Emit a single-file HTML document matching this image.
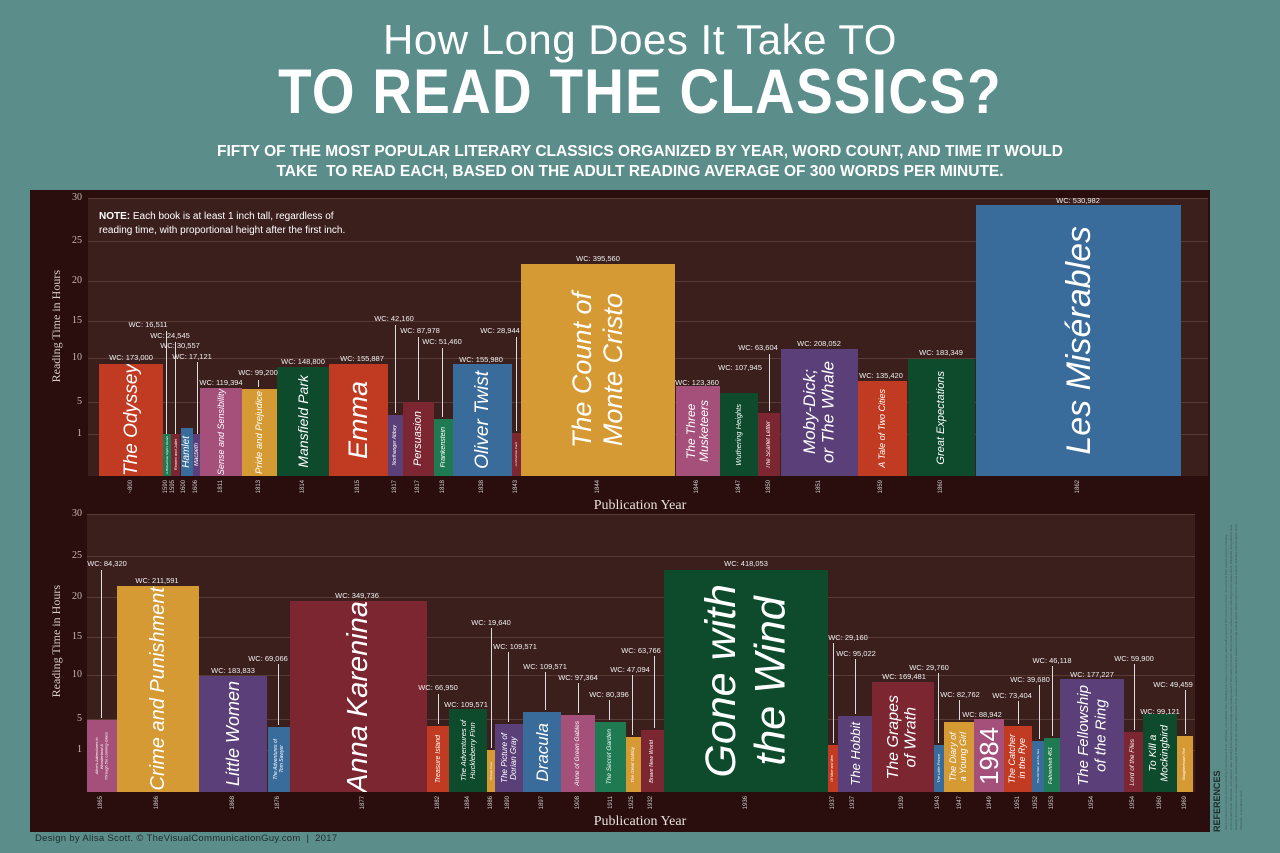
<!DOCTYPE html>
<html><head><meta charset="utf-8"><style>
*{margin:0;padding:0;box-sizing:border-box}
body{width:1280px;height:853px;background:#5b8d8b;position:relative;overflow:hidden;font-family:"Liberation Sans",sans-serif}
.a{position:absolute}
.panel{left:30px;top:190px;width:1180px;height:642px;background:#2a0e0d}
.plot{background:#3b1f1d}
.g{position:absolute;height:1px;background:#5a3a34}
.yl{position:absolute;font-family:"Liberation Serif",serif;font-size:10px;color:#c9b9b3;width:20px;text-align:right}
.b{position:absolute;display:flex;align-items:center;justify-content:center;color:#fff;font-style:italic;overflow:hidden}
.v{writing-mode:vertical-rl;transform:rotate(180deg);text-align:center;line-height:1;white-space:nowrap}
.w{position:absolute;font-size:7.5px;color:#eee;white-space:nowrap;transform:translateX(-50%)}
.l{position:absolute;width:1px;background:#ddd}
.yr{position:absolute;font-size:6px;color:#ccc;writing-mode:vertical-rl;transform:translateX(-50%) rotate(180deg)}
.px{position:absolute;font-family:"Liberation Serif",serif;font-size:14px;color:#e8e0dc;width:200px;text-align:center;margin-left:-100px}
.yt{position:absolute;font-family:"Liberation Serif",serif;font-size:12px;color:#d8ccc8;writing-mode:vertical-rl;transform:rotate(180deg)}
.R{background:#c13b22}.G{background:#d69a35}.N{background:#0d4b2c}.P{background:#5b3f78}.K{background:#a5507b}.M{background:#7b2630}.B{background:#3a6c9b}.T{background:#1f7a52}
</style></head><body>
<div class="a" style="left:0;top:16px;width:1280px;text-align:center;color:#fff;font-size:42px;font-weight:300;letter-spacing:0.5px">How Long Does It Take TO</div>
<div class="a" style="left:0;top:56px;width:1280px;text-align:center;color:#fff;font-size:63px;font-weight:bold;transform:scaleX(0.87);letter-spacing:1.5px">TO READ THE CLASSICS?</div>
<div class="a" style="left:0;top:142px;width:1280px;text-align:center;color:#fff;font-size:15.5px;font-weight:bold;line-height:20px">FIFTY OF THE MOST POPULAR LITERARY CLASSICS ORGANIZED BY YEAR, WORD COUNT, AND TIME IT WOULD<br>TAKE &nbsp;TO READ EACH, BASED ON THE ADULT READING AVERAGE OF 300 WORDS PER MINUTE.</div>

<div class="a panel"></div>
<div class="a plot" style="left:88px;top:198px;width:1120px;height:278px"></div>
<div class="a plot" style="left:87px;top:514px;width:1108px;height:278px"></div>

<div class="g" style="left:88px;width:1120px;top:198px"></div><div class="g" style="left:88px;width:1120px;top:241px"></div><div class="g" style="left:88px;width:1120px;top:281px"></div><div class="g" style="left:88px;width:1120px;top:321px"></div><div class="g" style="left:88px;width:1120px;top:358px"></div><div class="g" style="left:88px;width:1120px;top:402px"></div><div class="g" style="left:88px;width:1120px;top:434px"></div>
<div class="yl" style="left:62px;top:192px">30</div><div class="yl" style="left:62px;top:235px">25</div><div class="yl" style="left:62px;top:275px">20</div><div class="yl" style="left:62px;top:315px">15</div><div class="yl" style="left:62px;top:352px">10</div><div class="yl" style="left:62px;top:396px">5</div><div class="yl" style="left:62px;top:428px">1</div>
<div class="g" style="left:87px;width:1108px;top:514px"></div><div class="g" style="left:87px;width:1108px;top:556px"></div><div class="g" style="left:87px;width:1108px;top:597px"></div><div class="g" style="left:87px;width:1108px;top:637px"></div><div class="g" style="left:87px;width:1108px;top:675px"></div><div class="g" style="left:87px;width:1108px;top:719px"></div><div class="g" style="left:87px;width:1108px;top:750px"></div>
<div class="yl" style="left:62px;top:508px">30</div><div class="yl" style="left:62px;top:550px">25</div><div class="yl" style="left:62px;top:591px">20</div><div class="yl" style="left:62px;top:631px">15</div><div class="yl" style="left:62px;top:669px">10</div><div class="yl" style="left:62px;top:713px">5</div><div class="yl" style="left:62px;top:744px">1</div>

<div class="yt" style="left:49px;top:270px">Reading Time in Hours</div>
<div class="yt" style="left:49px;top:585px">Reading Time in Hours</div>
<div class="px" style="left:640px;top:498px">Publication Year</div>
<div class="px" style="left:640px;top:814px">Publication Year</div>

<div class="a" style="left:99px;top:210px;color:#fff;font-size:10px;line-height:14px"><b>NOTE:</b> Each book is at least 1 inch tall, regardless of<br>reading time, with proportional height after the first inch.</div>

<div class="b R" style="left:99px;top:364px;width:64px;height:112px"><span class="v" style="font-size:19px">The Odyssey</span></div>
<div class="b T" style="left:163px;top:434px;width:8px;height:42px"><span class="v" style="font-size:3px">A Midsummer Night's Dream</span></div>
<div class="b M" style="left:171px;top:434px;width:9px;height:42px"><span class="v" style="font-size:4px">Romeo and Juliet</span></div>
<div class="b B" style="left:181px;top:428px;width:12px;height:48px"><span class="v" style="font-size:10px">Hamlet</span></div>
<div class="b P" style="left:193px;top:434px;width:7px;height:42px"><span class="v" style="font-size:6px">Macbeth</span></div>
<div class="b K" style="left:200px;top:388px;width:42px;height:88px"><span class="v" style="font-size:9px">Sense and Sensibility</span></div>
<div class="b G" style="left:242px;top:389px;width:35px;height:87px"><span class="v" style="font-size:9.5px">Pride and Prejudice</span></div>
<div class="b N" style="left:277px;top:367px;width:52px;height:109px"><span class="v" style="font-size:14px">Mansfield Park</span></div>
<div class="b R" style="left:329px;top:364px;width:59px;height:112px"><span class="v" style="font-size:27px">Emma</span></div>
<div class="b P" style="left:388px;top:415px;width:15px;height:61px"><span class="v" style="font-size:5px">Northanger Abbey</span></div>
<div class="b M" style="left:403px;top:402px;width:31px;height:74px"><span class="v" style="font-size:11px">Persuasion</span></div>
<div class="b T" style="left:434px;top:419px;width:19px;height:57px"><span class="v" style="font-size:7px">Frankenstein</span></div>
<div class="b B" style="left:453px;top:364px;width:59px;height:112px"><span class="v" style="font-size:19px">Oliver Twist</span></div>
<div class="b M" style="left:512px;top:433px;width:9px;height:43px"><span class="v" style="font-size:3px">A Christmas Carol</span></div>
<div class="b G" style="left:521px;top:264px;width:154px;height:212px"><span class="v" style="font-size:27px;line-height:1.15">The Count of<br>Monte Cristo</span></div>
<div class="b K" style="left:676px;top:386px;width:44px;height:90px"><span class="v" style="font-size:12px;line-height:1.1">The Three<br>Musketeers</span></div>
<div class="b N" style="left:720px;top:393px;width:38px;height:83px"><span class="v" style="font-size:7.5px">Wuthering Heights</span></div>
<div class="b M" style="left:758px;top:413px;width:22px;height:63px"><span class="v" style="font-size:6px">The Scarlet Letter</span></div>
<div class="b P" style="left:781px;top:349px;width:77px;height:127px"><span class="v" style="font-size:17px;line-height:1.1">Moby-Dick;<br>or The Whale</span></div>
<div class="b R" style="left:858px;top:381px;width:49px;height:95px"><span class="v" style="font-size:9px">A Tale of Two Cities</span></div>
<div class="b N" style="left:908px;top:359px;width:67px;height:117px"><span class="v" style="font-size:11px">Great Expectations</span></div>
<div class="b B" style="left:976px;top:205px;width:205px;height:271px"><span class="v" style="font-size:34px">Les Misérables</span></div>

<div class="b K" style="left:87px;top:720px;width:30px;height:72px"><span class="v" style="font-size:4px;line-height:1.2">Alice's Adventures in<br>Wonderland &amp;<br>Through the Looking-Glass</span></div>
<div class="b G" style="left:117px;top:586px;width:82px;height:206px"><span class="v" style="font-size:20px">Crime and Punishment</span></div>
<div class="b P" style="left:199px;top:676px;width:68px;height:116px"><span class="v" style="font-size:18px">Little Women</span></div>
<div class="b B" style="left:268px;top:727px;width:22px;height:65px"><span class="v" style="font-size:5px;line-height:1.2">The Adventures of<br>Tom Sawyer</span></div>
<div class="b M" style="left:290px;top:601px;width:137px;height:191px"><span class="v" style="font-size:29px">Anna Karenina</span></div>
<div class="b R" style="left:427px;top:726px;width:22px;height:66px"><span class="v" style="font-size:7px">Treasure Island</span></div>
<div class="b N" style="left:449px;top:709px;width:38px;height:83px"><span class="v" style="font-size:7.5px;line-height:1.2">The Adventures of<br>Huckleberry Finn</span></div>
<div class="b G" style="left:487px;top:750px;width:8px;height:42px"><span class="v" style="font-size:3px">Strange Case</span></div>
<div class="b P" style="left:495px;top:724px;width:28px;height:68px"><span class="v" style="font-size:8px;line-height:1.15">The Picture of<br>Dorian Gray</span></div>
<div class="b B" style="left:523px;top:712px;width:38px;height:80px"><span class="v" style="font-size:17px">Dracula</span></div>
<div class="b K" style="left:561px;top:715px;width:34px;height:77px"><span class="v" style="font-size:6.5px">Anne of Green Gables</span></div>
<div class="b T" style="left:595px;top:722px;width:31px;height:70px"><span class="v" style="font-size:6.5px">The Secret Garden</span></div>
<div class="b G" style="left:626px;top:737px;width:15px;height:55px"><span class="v" style="font-size:4.5px">The Great Gatsby</span></div>
<div class="b M" style="left:641px;top:730px;width:23px;height:62px"><span class="v" style="font-size:5.5px">Brave New World</span></div>
<div class="b N" style="left:664px;top:570px;width:164px;height:222px"><span class="v" style="font-size:43px;line-height:1.15">Gone with<br>the Wind</span></div>
<div class="b R" style="left:828px;top:745px;width:10px;height:47px"><span class="v" style="font-size:3.5px">Of Mice and Men</span></div>
<div class="b P" style="left:838px;top:716px;width:34px;height:76px"><span class="v" style="font-size:13px">The Hobbit</span></div>
<div class="b M" style="left:872px;top:682px;width:62px;height:110px"><span class="v" style="font-size:16px;line-height:1.1">The Grapes<br>of Wrath</span></div>
<div class="b B" style="left:934px;top:745px;width:10px;height:47px"><span class="v" style="font-size:4px">The Little Prince</span></div>
<div class="b G" style="left:944px;top:722px;width:30px;height:70px"><span class="v" style="font-size:9px;line-height:1.1">The Diary of<br>a Young Girl</span></div>
<div class="b K" style="left:974px;top:719px;width:30px;height:73px"><span class="v" style="font-size:26px;font-style:normal">1984</span></div>
<div class="b R" style="left:1004px;top:726px;width:28px;height:66px"><span class="v" style="font-size:9px;line-height:1.1">The Catcher<br>in the Rye</span></div>
<div class="b B" style="left:1032px;top:741px;width:12px;height:51px"><span class="v" style="font-size:3px">The Old Man and the Sea</span></div>
<div class="b T" style="left:1044px;top:738px;width:16px;height:54px"><span class="v" style="font-size:5.5px">Fahrenheit 451</span></div>
<div class="b P" style="left:1060px;top:679px;width:64px;height:113px"><span class="v" style="font-size:15px;line-height:1.15">The Fellowship<br>of the Ring</span></div>
<div class="b M" style="left:1124px;top:732px;width:19px;height:60px"><span class="v" style="font-size:6.5px">Lord of the Flies</span></div>
<div class="b N" style="left:1143px;top:714px;width:34px;height:78px"><span class="v" style="font-size:10.5px;line-height:1.1">To Kill a<br>Mockingbird</span></div>
<div class="b G" style="left:1177px;top:736px;width:16px;height:56px"><span class="v" style="font-size:3.5px">Slaughterhouse-Five</span></div>

<div class="w" style="left:131px;top:353px">WC: 173,000</div>
<div class="w" style="left:148px;top:320px">WC: 16,511</div><div class="l" style="left:166px;top:331px;height:103px"></div>
<div class="w" style="left:170px;top:331px">WC: 24,545</div><div class="l" style="left:175px;top:342px;height:92px"></div>
<div class="w" style="left:180px;top:341px">WC: 30,557</div>
<div class="w" style="left:192px;top:352px">WC: 17,121</div><div class="l" style="left:197px;top:362px;height:72px"></div>
<div class="w" style="left:221px;top:378px">WC: 119,394</div>
<div class="w" style="left:258px;top:368px">WC: 99,200</div><div class="l" style="left:258px;top:380px;height:7px"></div>
<div class="w" style="left:303px;top:357px">WC: 148,800</div>
<div class="w" style="left:362px;top:354px">WC: 155,887</div>
<div class="w" style="left:394px;top:314px">WC: 42,160</div><div class="l" style="left:395px;top:325px;height:88px"></div>
<div class="w" style="left:420px;top:326px">WC: 87,978</div><div class="l" style="left:418px;top:337px;height:63px"></div>
<div class="w" style="left:442px;top:337px">WC: 51,460</div><div class="l" style="left:442px;top:348px;height:69px"></div>
<div class="w" style="left:481px;top:355px">WC: 155,980</div>
<div class="w" style="left:500px;top:326px">WC: 28,944</div><div class="l" style="left:516px;top:337px;height:94px"></div>
<div class="w" style="left:598px;top:254px">WC: 395,560</div>
<div class="w" style="left:697px;top:378px">WC: 123,360</div>
<div class="w" style="left:740px;top:363px">WC: 107,945</div>
<div class="w" style="left:758px;top:343px">WC: 63,604</div><div class="l" style="left:769px;top:354px;height:57px"></div>
<div class="w" style="left:819px;top:339px">WC: 208,052</div>
<div class="w" style="left:881px;top:371px">WC: 135,420</div>
<div class="w" style="left:941px;top:348px">WC: 183,349</div>
<div class="w" style="left:1078px;top:196px">WC: 530,982</div>

<div class="w" style="left:107px;top:559px">WC: 84,320</div><div class="l" style="left:101px;top:570px;height:148px"></div>
<div class="w" style="left:157px;top:576px">WC: 211,591</div>
<div class="w" style="left:233px;top:666px">WC: 183,833</div>
<div class="w" style="left:268px;top:654px">WC: 69,066</div><div class="l" style="left:278px;top:664px;height:61px"></div>
<div class="w" style="left:357px;top:591px">WC: 349,736</div>
<div class="w" style="left:438px;top:683px">WC: 66,950</div><div class="l" style="left:438px;top:694px;height:30px"></div>
<div class="w" style="left:466px;top:700px">WC: 109,571</div>
<div class="w" style="left:491px;top:618px">WC: 19,640</div><div class="l" style="left:491px;top:628px;height:120px"></div>
<div class="w" style="left:515px;top:642px">WC: 109,571</div><div class="l" style="left:508px;top:652px;height:70px"></div>
<div class="w" style="left:545px;top:662px">WC: 109,571</div><div class="l" style="left:545px;top:672px;height:38px"></div>
<div class="w" style="left:578px;top:673px">WC: 97,364</div><div class="l" style="left:578px;top:683px;height:30px"></div>
<div class="w" style="left:609px;top:690px">WC: 80,396</div><div class="l" style="left:609px;top:700px;height:20px"></div>
<div class="w" style="left:630px;top:665px">WC: 47,094</div><div class="l" style="left:632px;top:675px;height:60px"></div>
<div class="w" style="left:641px;top:646px">WC: 63,766</div><div class="l" style="left:654px;top:656px;height:72px"></div>
<div class="w" style="left:746px;top:559px">WC: 418,053</div>
<div class="w" style="left:848px;top:633px">WC: 29,160</div><div class="l" style="left:833px;top:643px;height:100px"></div>
<div class="w" style="left:856px;top:649px">WC: 95,022</div><div class="l" style="left:855px;top:659px;height:55px"></div>
<div class="w" style="left:904px;top:672px">WC: 169,481</div>
<div class="w" style="left:929px;top:663px">WC: 29,760</div><div class="l" style="left:938px;top:673px;height:70px"></div>
<div class="w" style="left:960px;top:690px">WC: 82,762</div><div class="l" style="left:959px;top:700px;height:20px"></div>
<div class="w" style="left:982px;top:710px">WC: 88,942</div>
<div class="w" style="left:1012px;top:691px">WC: 73,404</div><div class="l" style="left:1018px;top:701px;height:23px"></div>
<div class="w" style="left:1030px;top:675px">WC: 39,680</div><div class="l" style="left:1039px;top:685px;height:54px"></div>
<div class="w" style="left:1052px;top:656px">WC: 46,118</div><div class="l" style="left:1052px;top:666px;height:70px"></div>
<div class="w" style="left:1092px;top:670px">WC: 177,227</div>
<div class="w" style="left:1134px;top:654px">WC: 59,900</div><div class="l" style="left:1134px;top:664px;height:66px"></div>
<div class="w" style="left:1160px;top:707px">WC: 99,121</div>
<div class="w" style="left:1173px;top:680px">WC: 49,459</div><div class="l" style="left:1185px;top:690px;height:44px"></div>

<div class="yr" style="left:131px;top:480px">~800</div><div class="yr" style="left:166px;top:480px">1590</div><div class="yr" style="left:173px;top:480px">1595</div><div class="yr" style="left:184px;top:480px">1600</div><div class="yr" style="left:196px;top:480px">1606</div><div class="yr" style="left:221px;top:480px">1811</div><div class="yr" style="left:259px;top:480px">1813</div><div class="yr" style="left:303px;top:480px">1814</div><div class="yr" style="left:358px;top:480px">1815</div><div class="yr" style="left:395px;top:480px">1817</div><div class="yr" style="left:418px;top:480px">1817</div><div class="yr" style="left:443px;top:480px">1818</div><div class="yr" style="left:482px;top:480px">1838</div><div class="yr" style="left:516px;top:480px">1843</div><div class="yr" style="left:598px;top:480px">1844</div><div class="yr" style="left:697px;top:480px">1846</div><div class="yr" style="left:739px;top:480px">1847</div><div class="yr" style="left:769px;top:480px">1850</div><div class="yr" style="left:819px;top:480px">1851</div><div class="yr" style="left:881px;top:480px">1859</div><div class="yr" style="left:941px;top:480px">1860</div><div class="yr" style="left:1078px;top:480px">1862</div>
<div class="yr" style="left:101px;top:796px">1865</div><div class="yr" style="left:157px;top:796px">1866</div><div class="yr" style="left:233px;top:796px">1868</div><div class="yr" style="left:278px;top:796px">1876</div><div class="yr" style="left:363px;top:796px">1877</div><div class="yr" style="left:438px;top:796px">1882</div><div class="yr" style="left:468px;top:796px">1884</div><div class="yr" style="left:491px;top:796px">1886</div><div class="yr" style="left:508px;top:796px">1890</div><div class="yr" style="left:542px;top:796px">1897</div><div class="yr" style="left:578px;top:796px">1908</div><div class="yr" style="left:611px;top:796px">1911</div><div class="yr" style="left:632px;top:796px">1925</div><div class="yr" style="left:651px;top:796px">1932</div><div class="yr" style="left:746px;top:796px">1936</div><div class="yr" style="left:833px;top:796px">1937</div><div class="yr" style="left:853px;top:796px">1937</div><div class="yr" style="left:902px;top:796px">1939</div><div class="yr" style="left:938px;top:796px">1943</div><div class="yr" style="left:960px;top:796px">1947</div><div class="yr" style="left:990px;top:796px">1949</div><div class="yr" style="left:1018px;top:796px">1951</div><div class="yr" style="left:1036px;top:796px">1952</div><div class="yr" style="left:1052px;top:796px">1953</div><div class="yr" style="left:1092px;top:796px">1954</div><div class="yr" style="left:1133px;top:796px">1954</div><div class="yr" style="left:1160px;top:796px">1960</div><div class="yr" style="left:1185px;top:796px">1969</div>

<div class="a" style="left:35px;top:833px;font-size:9.5px;color:#1e2a2a;letter-spacing:0.3px">Design by Alisa Scott. © TheVisualCommunicationGuy.com &nbsp;|&nbsp; 2017</div>

<div class="a" style="left:1212px;top:770px;height:62px;font-size:9px;font-weight:bold;color:#1e2a2a;writing-mode:vertical-rl;transform:rotate(180deg)">REFERENCES</div>
<div class="a" style="left:1224px;top:520px;width:40px;height:310px;font-size:3px;line-height:5px;color:#3d5a59;writing-mode:vertical-rl;transform:rotate(180deg);overflow:hidden">Word counts from various sources including Commonplace Book, Wikipedia, and publisher data. Reading time based on an average adult reading speed of 300 words per minute. Word counts from various sources including Commonplace Book, Wikipedia, and publisher data. Reading time based on an average adult reading speed of 300 words per minute. Word counts from various sources including Commonplace Book, Wikipedia, and publisher data. Reading time based on an average adult reading speed of 300 words per minute. Word counts from various sources. Reading time based on average reading speed. Word counts from various sources including Commonplace Book, Wikipedia, and publisher data.</div>
</body></html>
